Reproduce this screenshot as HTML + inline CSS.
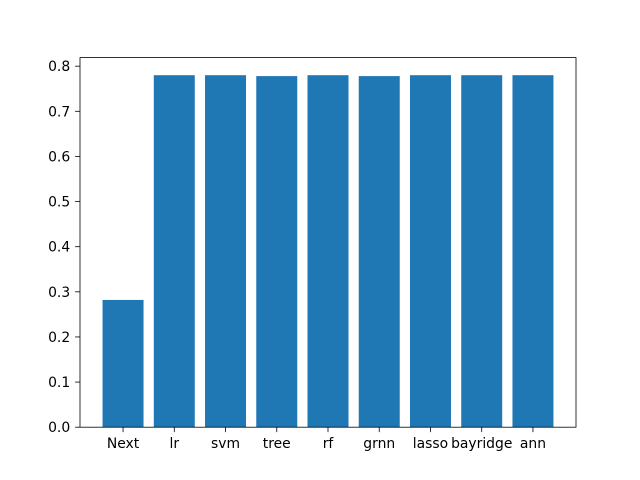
<!DOCTYPE html>
<html><head><meta charset="utf-8"><style>
body{margin:0;background:#fff;}
svg{display:block;font-family:"DejaVu Sans","Liberation Sans",sans-serif;}
</style></head><body>
<svg id="chart" width="640" height="480"></svg>
<script>
const categories=["Next","lr","svm","tree","rf","grnn","lasso","bayridge","ann"];
const values=[0.282,0.780,0.780,0.778,0.780,0.778,0.780,0.780,0.780];
const yTicks=[0,0.1,0.2,0.3,0.4,0.5,0.6,0.7,0.8];
const yTickLabels=["0.0","0.1","0.2","0.3","0.4","0.5","0.6","0.7","0.8"];

const NS="http://www.w3.org/2000/svg";
const svg=document.getElementById('chart');
const L=80,R=576,T=57.6,B=427.2;
const n=categories.length;
const xmin=-0.4-0.05*(n-1+0.8),xmax=n-1+0.4+0.05*(n-1+0.8);
const ymax=Math.max(...values)*1.05;
const xs=v=>L+(v-xmin)/(xmax-xmin)*(R-L);
const ys=v=>B-v/ymax*(B-T);
function mk(tag,attrs){const e=document.createElementNS(NS,tag);for(const k in attrs)e.setAttribute(k,attrs[k]);svg.appendChild(e);return e;}

categories.forEach((c,i)=>{
  const b=mk('rect',{x:xs(i-0.4),y:ys(values[i]),width:xs(i+0.4)-xs(i-0.4),height:B-ys(values[i]),fill:'#1f77b4'});
  
  
  const t=mk('line',{x1:xs(i),x2:xs(i),y1:B,y2:B+4.9,stroke:'#000','stroke-width':0.8});
  
  
  const l=mk('text',{x:xs(i),y:B+20.8,'text-anchor':'middle','font-size':13.9,fill:'#000'});
  l.textContent=c;
  
  
});
yTicks.forEach((v,i)=>{
  const t=mk('line',{x1:L-4.9,x2:L,y1:ys(v),y2:ys(v),stroke:'#000','stroke-width':0.8});
  
  
  const l=mk('text',{x:L-9.8,y:ys(v)+5,'text-anchor':'end','font-size':13.9,fill:'#000'});
  l.textContent=yTickLabels[i];
  
  
});
const f=mk('rect',{x:L,y:T,width:R-L,height:B-T,fill:'none',stroke:'#000','stroke-width':0.8});


</script>
</body></html>
